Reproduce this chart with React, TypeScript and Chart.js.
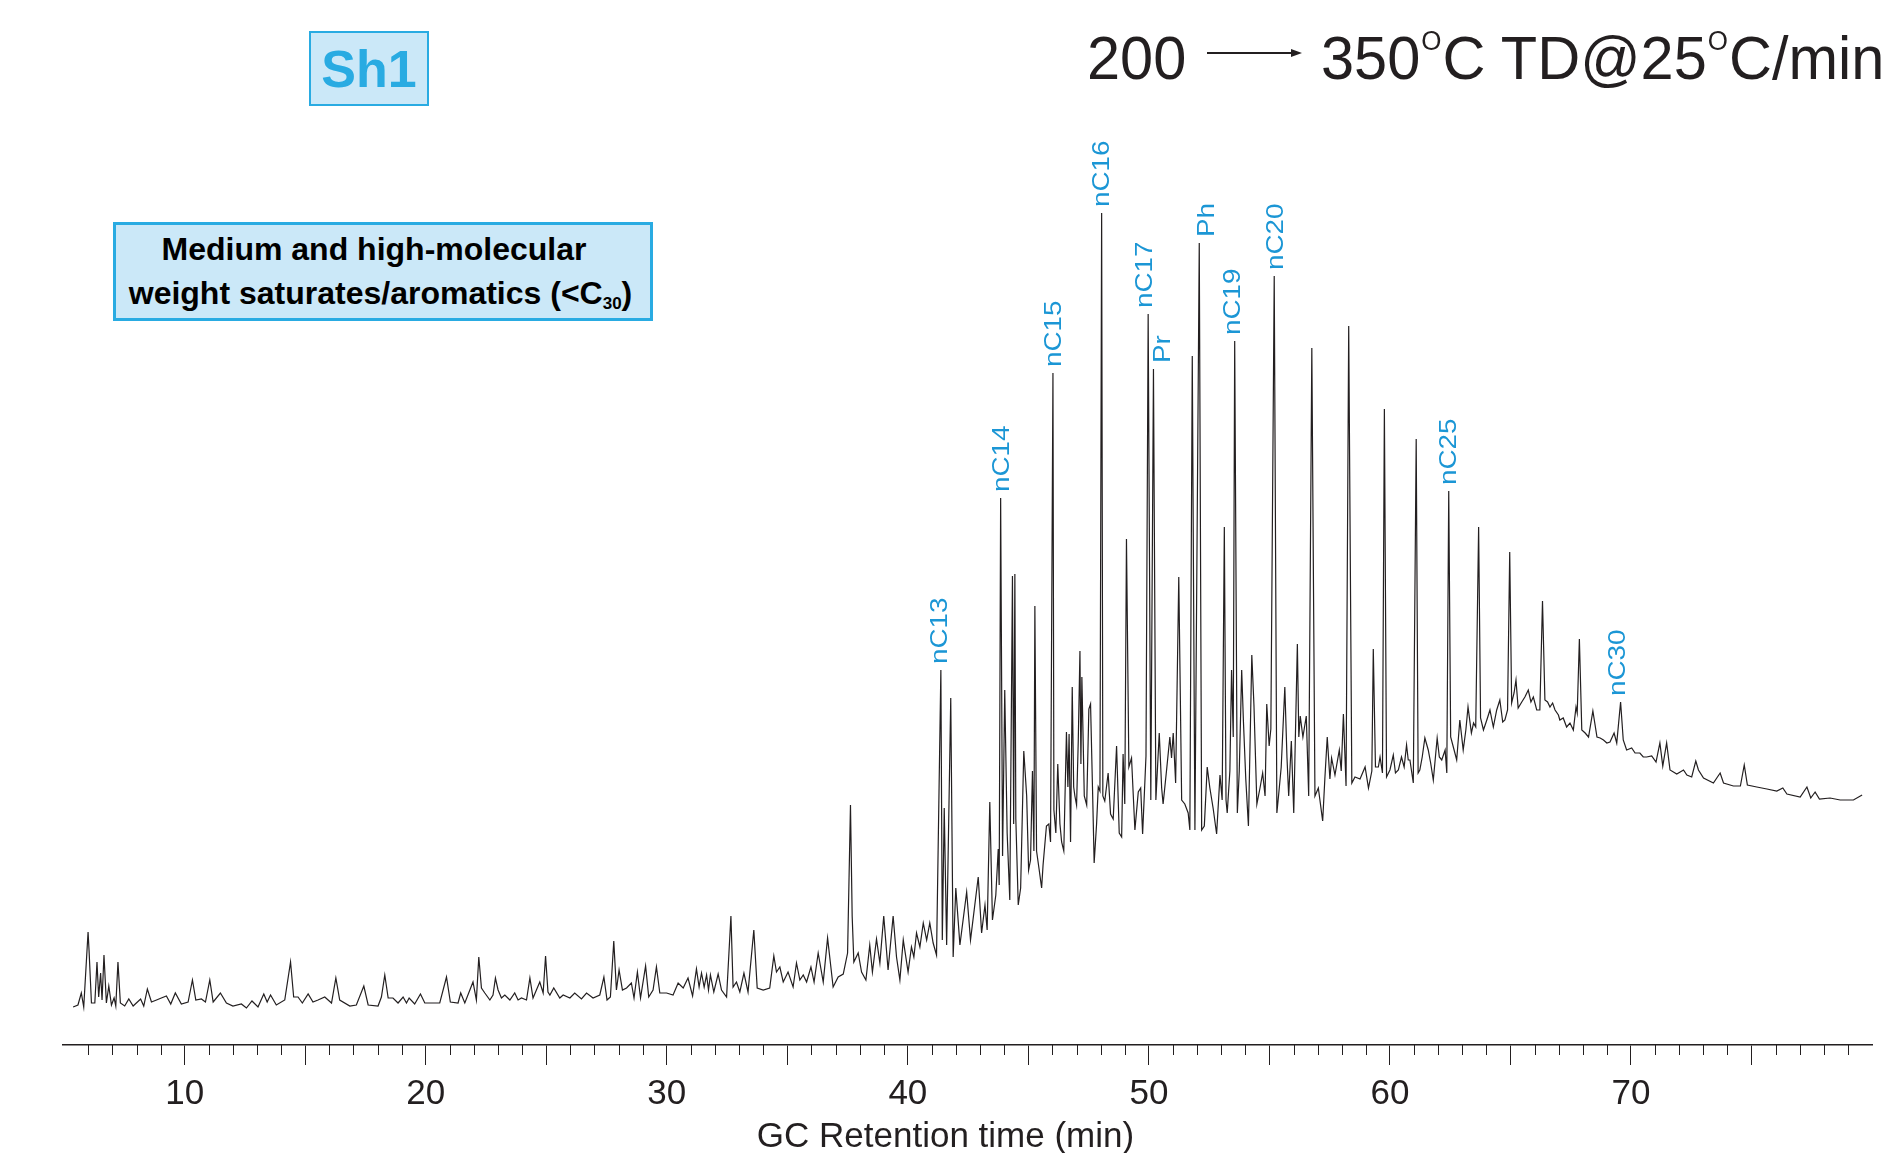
import React, { useEffect, useRef } from 'react';
import { Chart, registerables } from 'chart.js';

Chart.register(...registerables);

const FONT = "'Liberation Sans', Arial, Helvetica, sans-serif";
const INK = '#231f20';
const LABEL_BLUE = '#1b96d5';
const BOX_BLUE = '#29abe2';
const BOX_FILL = '#cbe8f8';

// GC trace: [retention time (min), detector response]
const traceEarly: [number, number][] = [
  [5.37, 38], [5.57, 40], [5.71, 52], [5.81, 38], [5.99, 113], [6.03, 95], [6.13, 42], [6.27, 42],
  [6.36, 83], [6.43, 48], [6.51, 72], [6.57, 45], [6.65, 90], [6.75, 42], [6.85, 59], [6.96, 40],
  [7.07, 47], [7.14, 39], [7.23, 83], [7.33, 42], [7.51, 39], [7.68, 46], [7.86, 39], [8.17, 46],
  [8.3, 39], [8.45, 56], [8.62, 43], [8.83, 45], [9.03, 47], [9.24, 49], [9.42, 41], [9.61, 52],
  [9.86, 41], [10.14, 43], [10.32, 65], [10.46, 45], [10.69, 46], [10.86, 43], [11.04, 65], [11.18, 43],
  [11.48, 52], [11.73, 42], [12.0, 39], [12.35, 41], [12.56, 37], [12.79, 44], [13.04, 38], [13.28, 51],
  [13.42, 43], [13.56, 50], [13.8, 40], [14.15, 45], [14.39, 83], [14.52, 48], [14.7, 48], [14.88, 42],
  [15.12, 51], [15.32, 43], [15.53, 45], [15.81, 48], [16.09, 42], [16.27, 67], [16.43, 45], [16.85, 39],
  [17.12, 40], [17.43, 59], [17.61, 40], [18.02, 39], [18.16, 48], [18.3, 70], [18.44, 47], [18.64, 47],
  [18.85, 42], [19.06, 48], [19.2, 42], [19.31, 47], [19.54, 41], [19.78, 51], [19.96, 42], [20.58, 42],
  [20.86, 68], [21.02, 43], [21.34, 42], [21.45, 52], [21.62, 42], [21.96, 63], [22.1, 45], [22.2, 88],
  [22.31, 57], [22.45, 52], [22.66, 45], [22.79, 50], [22.89, 67], [23.0, 55], [23.14, 47], [23.28, 50],
  [23.49, 45], [23.69, 52], [23.83, 45], [23.97, 47], [24.18, 45], [24.32, 67], [24.45, 47], [24.73, 63],
  [24.87, 52], [24.97, 89], [25.07, 53], [25.15, 50], [25.31, 57], [25.56, 47],
];

const traceMid: [number, number][] = [
  [25.7, 50], [25.98, 47], [26.18, 52], [26.46, 46], [26.67, 52], [26.94, 47], [27.22, 50], [27.39, 68],
  [27.52, 45], [27.66, 48], [27.8, 104], [27.91, 55], [28.02, 75], [28.16, 55], [28.33, 57], [28.53, 62],
  [28.64, 47], [28.78, 73], [28.91, 47], [29.12, 79], [29.25, 48], [29.43, 55], [29.57, 78], [29.71, 52],
  [29.99, 52], [30.26, 50], [30.47, 62], [30.68, 57], [30.88, 67], [31.07, 49], [31.23, 76], [31.34, 58],
  [31.44, 72], [31.55, 58], [31.65, 70], [31.73, 55], [31.81, 70], [31.95, 53], [32.13, 71], [32.27, 55],
  [32.48, 48], [32.66, 129], [32.75, 58], [32.89, 63], [33.03, 53], [33.2, 72], [33.37, 53], [33.61, 115],
  [33.75, 57], [34.0, 55], [34.27, 57], [34.44, 89], [34.55, 73], [34.69, 78], [34.83, 63], [35.03, 73],
  [35.24, 58], [35.38, 82], [35.52, 65], [35.66, 70], [35.8, 63], [35.98, 78], [36.11, 63], [36.28, 92],
  [36.49, 63], [36.67, 107], [36.9, 58], [37.11, 68], [37.32, 71], [37.5, 92], [37.62, 240], [37.69, 129],
  [37.76, 83], [37.94, 92], [38.08, 73], [38.26, 65], [38.42, 100], [38.53, 73], [38.7, 106], [38.84, 82],
  [39.0, 129], [39.18, 75], [39.39, 129], [39.53, 88], [39.67, 65], [39.81, 105], [40.01, 73], [40.15, 98],
  [40.25, 88], [40.36, 112], [40.5, 98], [40.64, 122], [40.78, 105], [40.91, 122], [41.05, 102], [41.19, 90],
];

const traceMain: [number, number][] = [
  [41.37, 375], [41.43, 105], [41.51, 237], [41.61, 100], [41.78, 347], [41.88, 88], [41.99, 157], [42.16, 100],
  [42.44, 153], [42.6, 105], [42.92, 168], [43.06, 112], [43.2, 140], [43.29, 115], [43.4, 243], [43.51, 125],
  [43.65, 150], [43.75, 196], [43.79, 160], [43.85, 547], [43.93, 189], [44.02, 355], [44.12, 212], [44.23, 145],
  [44.34, 469], [44.39, 221], [44.44, 471], [44.48, 226], [44.58, 140], [44.68, 157], [44.81, 294], [44.93, 249],
  [45.01, 175], [45.09, 185], [45.17, 274], [45.23, 194], [45.27, 439], [45.34, 194], [45.45, 175], [45.55, 157],
  [45.61, 180], [45.75, 219], [45.85, 221], [45.92, 203], [46.02, 672], [46.06, 235], [46.14, 212], [46.22, 281],
  [46.31, 221], [46.38, 203], [46.47, 194], [46.58, 313], [46.64, 258], [46.69, 311], [46.75, 203], [46.82, 358],
  [46.88, 258], [46.93, 249], [47.0, 240], [47.07, 304], [47.14, 394], [47.18, 281], [47.22, 368], [47.32, 249],
  [47.42, 240], [47.51, 336], [47.58, 341], [47.66, 258], [47.73, 182], [47.83, 221], [47.9, 258], [47.97, 254],
  [48.04, 832], [48.09, 249], [48.17, 244], [48.31, 272], [48.41, 231], [48.52, 226], [48.66, 299], [48.77, 212],
  [48.87, 208],
];

const traceLate: [number, number][] = [
  [48.93, 291], [49.0, 241], [49.07, 506], [49.17, 278], [49.28, 287], [49.42, 215], [49.56, 253], [49.66, 257],
  [49.74, 211], [49.88, 289], [49.97, 731], [50.08, 245], [50.19, 676], [50.29, 245], [50.43, 312], [50.53, 257],
  [50.59, 241], [50.73, 274], [50.87, 308], [50.94, 287], [51.01, 312], [51.11, 262], [51.24, 468], [51.36, 245],
  [51.49, 241], [51.63, 232], [51.7, 215], [51.8, 689], [51.91, 215], [52.09, 802], [52.19, 215], [52.3, 219],
  [52.42, 278], [52.53, 257], [52.67, 236], [52.81, 211], [52.95, 270], [53.04, 245], [53.13, 518], [53.2, 245],
  [53.25, 232], [53.36, 274], [53.43, 375], [53.5, 308], [53.56, 704], [53.67, 232], [53.75, 274], [53.85, 375],
  [53.92, 325], [54.02, 266], [54.13, 219], [54.27, 390], [54.36, 339], [54.48, 241], [54.61, 257], [54.72, 272],
  [54.82, 249], [54.89, 341], [54.99, 299], [55.06, 316], [55.2, 769], [55.31, 232], [55.41, 257], [55.49, 278],
  [55.64, 358], [55.73, 287], [55.8, 249], [55.91, 304], [56.01, 232], [56.16, 401], [56.22, 308], [56.28, 329],
  [56.39, 308], [56.53, 329], [56.63, 249], [56.76, 697], [56.89, 249], [57.03, 257], [57.21, 224], [57.3, 266],
  [57.4, 308], [57.51, 266], [57.58, 287], [57.72, 270], [57.9, 295], [57.98, 274], [58.07, 331], [58.18, 259],
  [58.29, 719], [58.42, 262], [58.55, 268], [58.76, 266], [58.97, 278], [59.11, 257], [59.25, 274], [59.31, 396],
  [59.4, 278],
];

const traceTail: [number, number][] = [
  [59.52, 278], [59.59, 288], [59.69, 272], [59.77, 636], [59.86, 268], [60.0, 275], [60.14, 290], [60.23, 272],
  [60.35, 275], [60.48, 288], [60.59, 278], [60.69, 300], [60.76, 285], [60.83, 285], [60.97, 262], [61.09, 606],
  [61.17, 272], [61.24, 275], [61.34, 288], [61.45, 307], [61.59, 295], [61.69, 282], [61.8, 265], [61.96, 307],
  [62.05, 288], [62.15, 285], [62.29, 295], [62.36, 272], [62.44, 554], [62.52, 308], [62.63, 298], [62.77, 285],
  [62.9, 325], [63.04, 295], [63.15, 315], [63.24, 338], [63.38, 312], [63.47, 322], [63.56, 318], [63.68, 518],
  [63.76, 327], [63.88, 315], [64.02, 325], [64.15, 335], [64.29, 318], [64.43, 335], [64.56, 345], [64.68, 323],
  [64.77, 325], [64.88, 335], [64.97, 493], [65.05, 342], [65.15, 352], [65.23, 365], [65.32, 337], [65.47, 343],
  [65.6, 348], [65.74, 355], [65.85, 343], [65.95, 348], [66.09, 335], [66.22, 335], [66.33, 444], [66.43, 345],
  [66.54, 343], [66.64, 338], [66.75, 342], [66.85, 335], [66.99, 330], [67.05, 325], [67.19, 327], [67.33, 318],
  [67.47, 322], [67.61, 315], [67.72, 338], [67.77, 332], [67.86, 406], [67.96, 315], [68.1, 312], [68.24, 308],
  [68.42, 334], [68.59, 308], [68.72, 307], [68.86, 305], [69.0, 302], [69.13, 303], [69.3, 312], [69.41, 302],
  [69.57, 343], [69.68, 305], [69.82, 295], [70.03, 297], [70.17, 292], [70.37, 292], [70.51, 288], [70.65, 288],
  [70.86, 289], [71.04, 283], [71.2, 302], [71.32, 279], [71.48, 302], [71.62, 275], [71.9, 271], [72.18, 275],
  [72.32, 270], [72.52, 268], [72.69, 284], [72.8, 275], [73.01, 267], [73.42, 262], [73.7, 272], [73.84, 262],
  [74.25, 259], [74.54, 259], [74.7, 280], [74.83, 260], [75.22, 258], [75.64, 256], [76.05, 254], [76.3, 257],
  [76.47, 251], [77.02, 248], [77.3, 258], [77.46, 247], [77.64, 253], [77.82, 246], [78.26, 247], [78.68, 245],
  [79.23, 245], [79.59, 250],
];

// Identified peaks
const peakNames = ['nC13', 'nC14', 'nC15', 'nC16', 'nC17', 'Pr', 'Ph', 'nC19', 'nC20', 'nC25', 'nC30'];
const peakTimes = [41.37, 43.85, 46.02, 48.04, 49.97, 50.19, 52.09, 53.56, 55.2, 62.44, 69.57];

// Axis
const X_MIN = 4.95;
const X_MAX = 80;
const Y_MAX = 1045;
const labelledTicks = [10, 20, 30, 40, 50, 60, 70];
const majorTicks = [10, 15, 20, 25, 30, 35, 40, 45, 50, 55, 60, 65, 70, 75];
const minorTickRange = [6, 79];
const axisTitle = 'GC Retention time (min)';

// label placement style (pixel nudges)
const labelShift = [0, 2, 1, 1, -3, 10, 8, -1, 2, 1, -2];

const tracePoints = [...traceEarly, ...traceMid, ...traceMain, ...traceLate, ...traceTail];

function peakHeight(t: number): number {
  let best = 0;
  for (const [x, y] of tracePoints) {
    if (Math.abs(x - t) < 0.03 && y > best) best = y;
  }
  return best;
}

const annotatePlugin = {
  id: 'gcAnnotations',
  afterDraw(chart: any) {
    const { ctx, chartArea, scales } = chart;
    const xs = scales.x;
    const ys = scales.y;
    ctx.save();
    // minor ticks
    ctx.strokeStyle = INK;
    ctx.lineWidth = 1;
    ctx.beginPath();
    for (let t = minorTickRange[0]; t <= minorTickRange[1]; t++) {
      if (majorTicks.includes(t)) continue;
      const px = Math.round(xs.getPixelForValue(t)) + 0.5;
      ctx.moveTo(px, chartArea.bottom);
      ctx.lineTo(px, chartArea.bottom + 10);
    }
    ctx.stroke();

    // axis title
    ctx.fillStyle = INK;
    ctx.font = `35px ${FONT}`;
    ctx.textAlign = 'center';
    ctx.textBaseline = 'alphabetic';
    ctx.fillText(axisTitle, (chartArea.left + chartArea.right) / 2 - 22, xs.bottom - 6);

    // peak labels
    ctx.fillStyle = LABEL_BLUE;
    ctx.font = `24px ${FONT}`;
    ctx.textAlign = 'left';
    ctx.textBaseline = 'middle';
    peakNames.forEach((name, i) => {
      const t = peakTimes[i];
      const px = xs.getPixelForValue(t) + labelShift[i];
      const py = ys.getPixelForValue(peakHeight(t)) - 6;
      ctx.save();
      ctx.translate(px, py);
      ctx.rotate(-Math.PI / 2);
      ctx.scale(1.16, 1);
      ctx.fillText(name, 0, 0);
      ctx.restore();
    });
    ctx.restore();
  },
};

function ChromatogramCanvas() {
  const ref = useRef<HTMLCanvasElement | null>(null);
  useEffect(() => {
    if (!ref.current) return;
    const chart = new Chart(ref.current, {
      type: 'line',
      data: {
        datasets: [
          {
            data: tracePoints.map(([x, y]) => ({ x, y })),
            borderColor: INK,
            borderWidth: 1.2,
            pointRadius: 0,
            tension: 0,
            fill: false,
          },
        ],
      },
      options: {
        responsive: false,
        animation: false,
        devicePixelRatio: 1,
        layout: { padding: { left: 63, right: 28, top: 0, bottom: 0 } },
        plugins: { legend: { display: false }, tooltip: { enabled: false } },
        scales: {
          x: {
            type: 'linear',
            min: X_MIN,
            max: X_MAX,
            afterFit: (scale: any) => {
              scale.height = 108;
            },
            border: { display: true, color: INK, width: 1.5 },
            grid: {
              display: true,
              drawOnChartArea: false,
              drawTicks: true,
              tickLength: 20,
              tickWidth: 1,
              tickColor: (c: any) =>
                c.tick && majorTicks.includes(c.tick.value) ? INK : 'rgba(0,0,0,0)',
            },
            ticks: {
              stepSize: 1,
              autoSkip: false,
              maxRotation: 0,
              minRotation: 0,
              padding: 8,
              color: INK,
              font: { family: FONT, size: 35 },
              callback: (v: any) => (labelledTicks.includes(v) ? String(v) : ''),
            },
            title: { display: false },
          },
          y: { display: false, min: 0, max: Y_MAX },
        },
      },
      plugins: [annotatePlugin],
    } as any);
    return () => chart.destroy();
  }, []);
  return <canvas ref={ref} width={1900} height={1153} style={{ display: 'block', width: 1900, height: 1153 }} />;
}

function Header() {
  const sup = (
    <span style={{ fontSize: 27, position: 'relative', top: -29, margin: '0 1px' }}>O</span>
  );
  const textStyle: React.CSSProperties = {
    position: 'absolute',
    top: 27,
    fontSize: 62,
    lineHeight: '62px',
    fontFamily: FONT,
    color: INK,
    whiteSpace: 'nowrap',
    transform: 'scaleX(0.96)',
    transformOrigin: 'left top',
  };
  return (
    <>
      <div style={{ ...textStyle, left: 1087 }}>200</div>
      <svg style={{ position: 'absolute', left: 1207, top: 46 }} width={96} height={14}>
        <line x1={0} y1={7} x2={86} y2={7} stroke={INK} strokeWidth={2} />
        <polygon points="84,3 95,7 84,11" fill={INK} />
      </svg>
      <div style={{ ...textStyle, left: 1321 }}>
        350{sup}C TD@25{sup}C/min
      </div>
    </>
  );
}

function Boxes() {
  return (
    <>
      <div
        style={{
          position: 'absolute',
          left: 309,
          top: 31,
          width: 120,
          height: 75,
          boxSizing: 'border-box',
          border: `2.5px solid ${BOX_BLUE}`,
          background: BOX_FILL,
          display: 'flex',
          alignItems: 'center',
          justifyContent: 'center',
          fontFamily: FONT,
          fontWeight: 'bold',
          fontSize: 52,
          lineHeight: '52px',
          color: BOX_BLUE,
        }}
      >
        Sh1
      </div>
      <div
        style={{
          position: 'absolute',
          left: 113,
          top: 222,
          width: 540,
          height: 99,
          boxSizing: 'border-box',
          border: `3px solid ${BOX_BLUE}`,
          background: BOX_FILL,
          display: 'flex',
          flexDirection: 'column',
          alignItems: 'center',
          justifyContent: 'center',
          paddingTop: 5,
          fontFamily: FONT,
          fontWeight: 'bold',
          fontSize: 32,
          lineHeight: '44px',
          color: '#000',
          whiteSpace: 'nowrap',
        }}
      >
        <div style={{ marginRight: 18 }}>Medium and high-molecular</div>
        <div style={{ marginRight: 5 }}>
          weight saturates/aromatics (&lt;C<sub style={{ fontSize: 17, verticalAlign: 'baseline', position: 'relative', top: 5 }}>30</sub>)
        </div>
      </div>
    </>
  );
}

export default function App() {
  return (
    <div style={{ position: 'absolute', left: 0, top: 0, width: 1900, height: 1153, background: '#fff', overflow: 'hidden' }}>
      <ChromatogramCanvas />
      <Header />
      <Boxes />
    </div>
  );
}
